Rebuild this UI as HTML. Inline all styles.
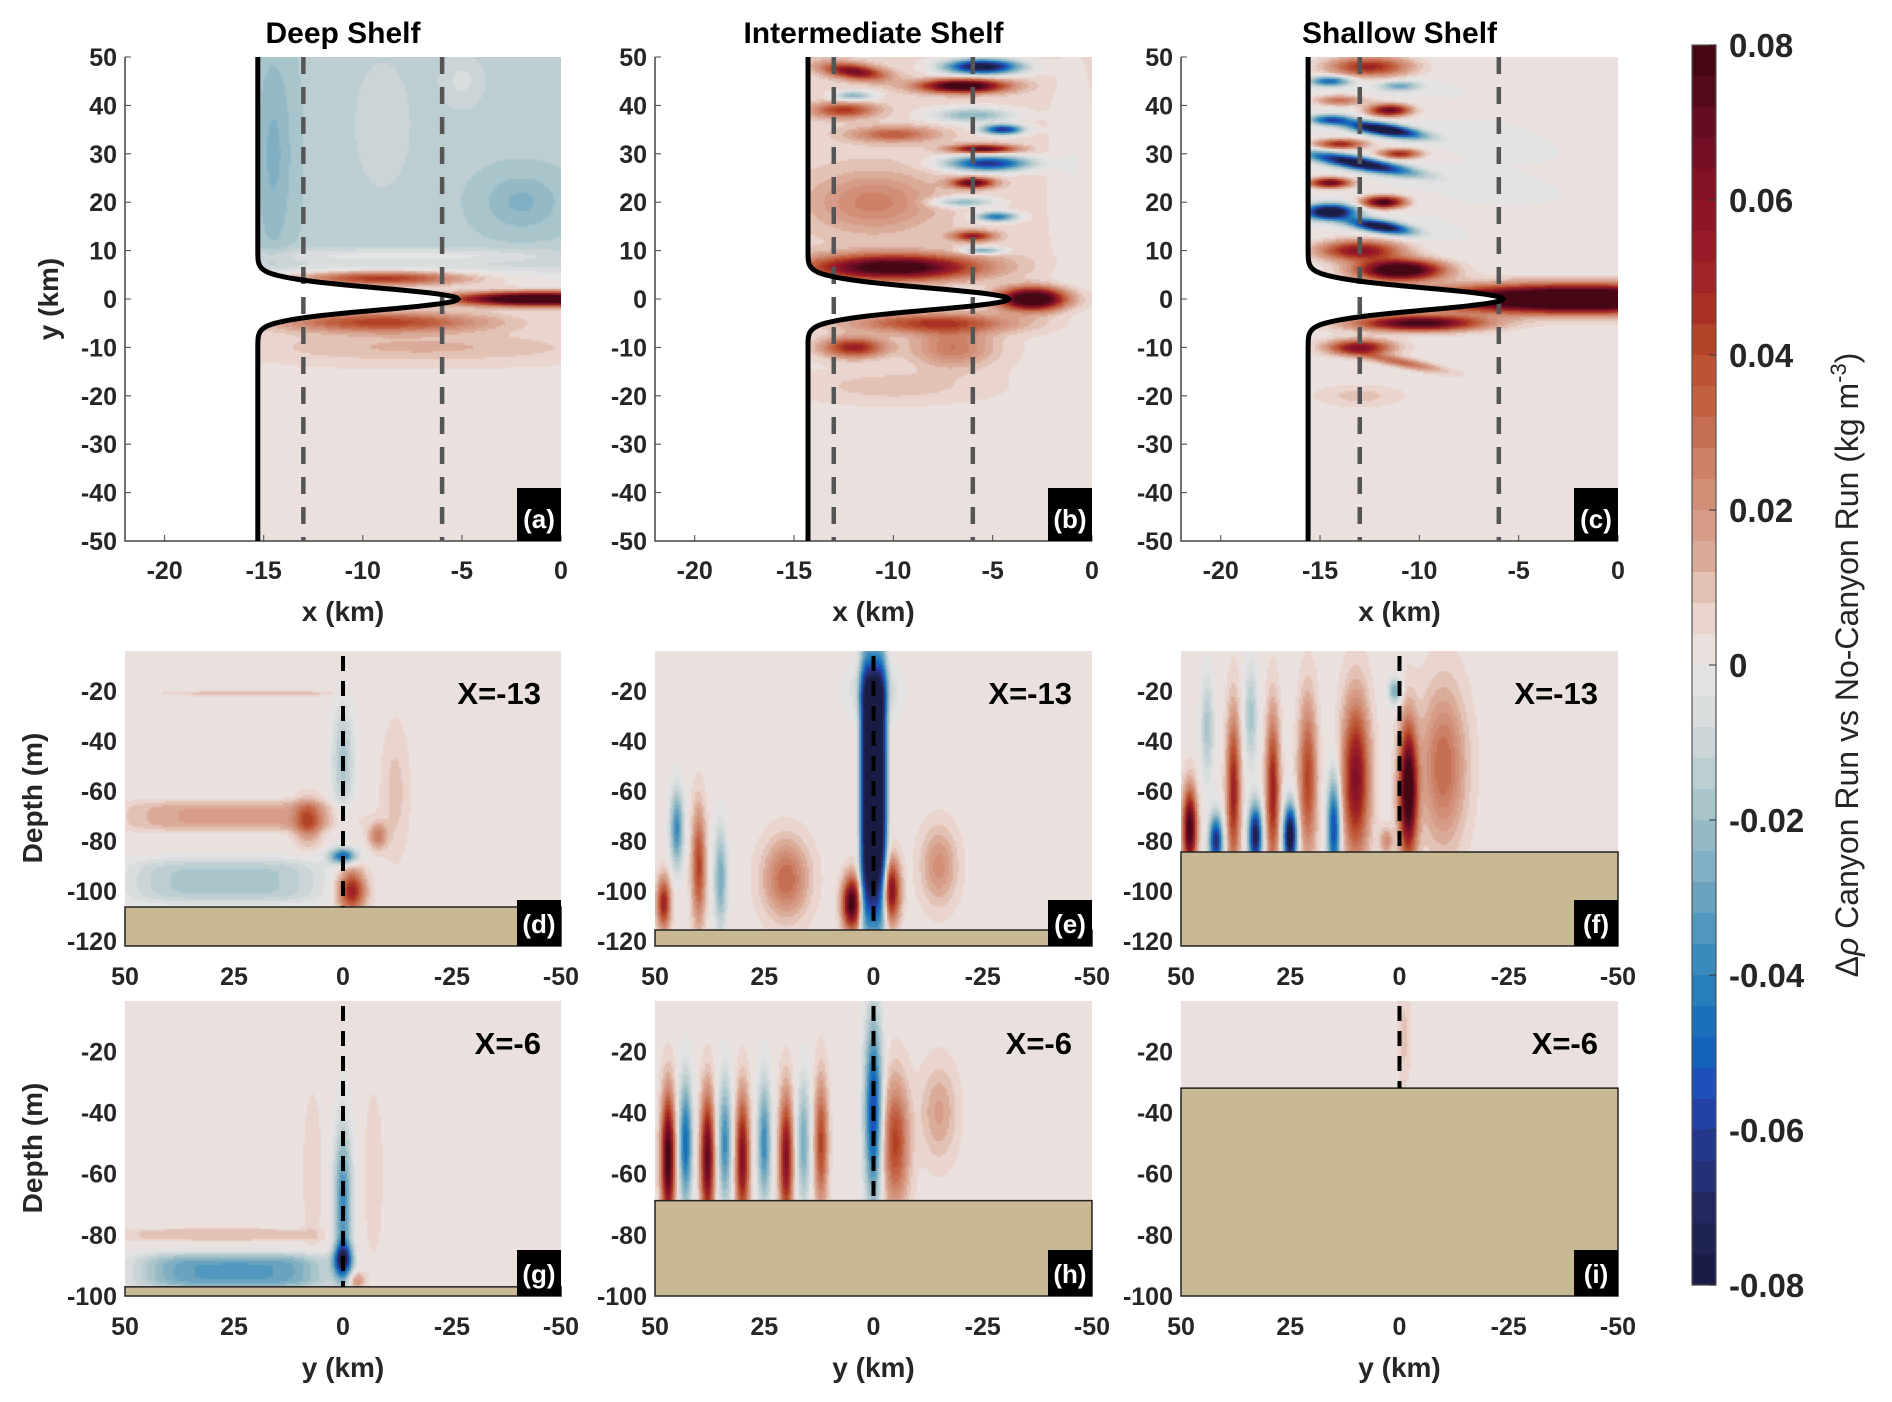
<!DOCTYPE html>
<html><head><meta charset="utf-8">
<style>
html,body{margin:0;padding:0;background:#fff;}
#wrap{position:relative;width:1892px;height:1402px;overflow:hidden;font-family:"Liberation Sans",sans-serif;}
canvas{position:absolute;}
svg{position:absolute;left:0;top:0;}
</style></head>
<body>
<div id="wrap"></div>
<script>
// ---------- DATA ----------
const panelLetters = ['a','b','c','d','e','f','g','h','i'];
const colTitles = ['Deep Shelf','Intermediate Shelf','Shallow Shelf'];
const xTicksTop = [-20,-15,-10,-5,0];
const yTicksTop = [50,40,30,20,10,0,-10,-20,-30,-40,-50];
const yTicksSec = [50,25,0,-25,-50];
const depthTicksMid = [-20,-40,-60,-80,-100,-120];
const depthTicksBot = [-20,-40,-60,-80,-100];
const cbTicks = [0.08,0.06,0.04,0.02,0,-0.02,-0.04,-0.06,-0.08];
const cbLabels = ['0.08','0.06','0.04','0.02','0','-0.02','-0.04','-0.06','-0.08'];
const dashXs = [-13,-6];
const sectionLabels = ['X=-13','X=-13','X=-13','X=-6','X=-6','X=-6'];
const coastBase = [-15.3,-14.3,-15.6];
const coastTip = [-5.2,-4.2,-5.8];
const bathy = [-106.4,-115.6,-84.4,-97,-68.8,-32];
const bgNorth = [-0.015,0.006,0.0];
const bgSouth = [0.003,0.003,0.002];
const bgSection = [0.002,0.002,0.002,0.002,0.002,0.002];
// blobs: [x, y, sx, sy, amp, shear, power]
const blobsA = [
 [-14.5,30,1.0,22,-0.01,0,2],[-2,20,2,6,-0.01,0,2],[-9,36,1.5,14,0.007,0,2],[-5,45,1.2,6,0.008,0,2],
 [-1,0,4,1.3,0.11,0,2],[-9,4.3,4,1.4,0.045,0,2],[-9,-4.8,5,2,0.04,0,2],[-7,-10,8,3,0.01,0,2],[-8,9,8,1.5,0.012,0,2]];
const blobsB = [
 [-5.5,48,1.8,1.5,-0.09,0,2],[-6.5,44,2,1.3,0.09,0,2],[-12,47,1.5,1.5,0.06,-0.5,2],[-12,42,1,1,-0.03,0,2],
 [-12.5,39,1.5,1.5,0.04,0,2],[-6,38,2,1.5,-0.03,0,2],[-4.5,35,1,1,-0.07,0,2],[-5.5,31,1.5,0.8,0.07,0,2],
 [-5.2,28,2,1.5,-0.07,0,2],[-10,34,2,1.5,0.03,0,2],[-6,24,1,1,0.07,0,2],[-6.5,20,1.5,1,-0.03,0,2],
 [-4.8,17,1,1,-0.05,0,2],[-11,20,3,6,0.02,0,2],[-6,13,1,1,0.05,0,2],[-5.5,10,1,0.7,-0.035,0,2],
 [-10,6.5,4,2.5,0.085,0,2],[-3,0,1.6,2.2,0.1,0,2],[-8,-5,4,2,0.04,0,2],[-12,-10,1.5,2,0.05,0,2],
 [-7,-10,2,4,0.025,0,2],[-10,-18,4,3,0.008,0,2],[-1,25,1.2,25,-0.006,0,2]];
const blobsC = [
 [-12.5,48,2,2,0.05,0,2],[-14.5,45,1,1,-0.05,0,2],[-11,44,1,1,-0.03,0,2],[-14,41,1.2,1,0.03,0,2],
 [-11.5,39,1,1.2,0.07,0,2],[-14.5,37,1,1,-0.05,0,2],[-11.8,35,1.8,1.2,-0.1,-0.6,2],[-14,32,1.2,1,0.05,0,2],
 [-11,30,1,1,0.05,0,2],[-13,28,2.5,1.3,-0.09,-0.7,2],[-14.5,24,1,1,0.07,0,2],[-11.8,20,1,1.2,0.08,0,2],
 [-14.5,18,1.2,1.5,-0.1,0,2],[-12,15,1.5,1.2,-0.09,-0.6,2],[-13,10,2,2,0.06,0,2],[-2,0,7,2.6,0.13,0,2],
 [-11,6,2,2,0.1,0,2],[-10,-5,3,1.5,0.08,0,2],[-13,-10,1.5,1.5,0.06,0,2],[-11,-13,2,1,0.03,-0.8,2],[-13,-20,2,2,0.008,0,2]];
const blobsD = [
 [25,-70,25,6,0.015,0,4],[8,-72,3,8,0.03,0,2],[27,-96,22,9,-0.02,0,4],[0,-48,2.5,22,-0.02,0,2],
 [0,-86,3,3,-0.05,0,2],[-2,-100,3,8,0.05,0,2],[-8,-78,2,5,0.025,0,2],[-12,-60,3,25,0.008,0,2],[20,-21,20,1,0.008,0,4]];
const blobsE = [
 [0,-60,3,55,-0.1,0,4],[0,-20,5,10,-0.02,0,2],[5,-105,2,10,0.08,0,2],[-4,-100,2,12,0.06,0,2],
 [40,-90,1.5,22,0.04,0,2],[45,-75,1.5,15,-0.04,0,2],[35,-95,1.5,20,-0.03,0,2],[20,-95,5,15,0.03,0,2],
 [-15,-90,4,15,0.02,0,2],[48,-105,1.5,10,0.05,0,2]];
const blobsF = [
 [48,-75,1.5,15,0.08,0,2],[42,-80,1.5,10,-0.07,0,2],[38,-60,1.5,30,0.05,0,2],[33,-78,1.5,12,-0.08,0,2],
 [29,-60,1.5,30,0.05,0,2],[25,-78,1.5,12,-0.09,0,2],[21,-55,2,30,0.04,0,2],[15,-75,1.5,20,-0.06,0,2],
 [10,-55,3,30,0.06,0,2],[3,-80,1.5,5,0.02,0,2],[-2,-60,2,25,0.09,0,2],[-10,-50,5,30,0.03,0,2],
 [1,-20,1.5,5,-0.03,0,2],[44,-35,1.5,20,-0.02,0,2],[34,-30,1.5,20,-0.02,0,2]];
const blobsG = [
 [0,-70,2,25,-0.04,0,2],[0,-88,2,5,-0.06,0,2],[25,-92,22,6,-0.035,0,4],[28,-80,22,2,0.01,0,4],
 [7,-60,2,25,0.006,0,2],[-7,-60,2,25,0.006,0,2],[-3,-95,2,3,0.02,0,2]];
const blobsH = [
 [47,-55,1.5,20,0.08,0,2],[43,-50,1.5,20,-0.05,0,2],[38,-55,1.5,20,0.07,0,2],[34,-50,1.5,20,-0.04,0,2],
 [30,-55,1.5,20,0.06,0,2],[25,-50,1.5,20,-0.04,0,2],[20,-55,1.5,20,0.06,0,2],[16,-50,1.5,20,-0.03,0,2],
 [12,-50,1.5,20,0.04,0,2],[0,-40,2,30,-0.06,0,2],[-5,-50,3,20,0.04,0,2],[-15,-40,4,15,0.015,0,2]];
const blobsI = [[-1,-15,1.5,15,0.008,0,2]];
const allBlobs = [blobsA,blobsB,blobsC,blobsD,blobsE,blobsF,blobsG,blobsH,blobsI];
const cmapVals = [-0.08,-0.07,-0.06,-0.055,-0.05,-0.045,-0.04,-0.035,-0.03,-0.025,-0.02,-0.015,-0.01,-0.005,0,0.005,0.01,0.015,0.02,0.025,0.03,0.04,0.045,0.05,0.06,0.07,0.08];
const cmapCols = ['#171a40','#22295e','#263a98','#1f4bb8','#1463bd','#1c74b8','#2d84bd','#4c94bc','#6aa3bf','#86b2c4','#9fc0c8','#b8ccd1','#cbd5d8','#dcdfe0','#e8e6e6','#ecdad4','#e3c2b6','#d9a592','#d49680','#cd846b','#c66e51','#b94d2c','#ab3522','#9f2327','#8a1227','#640c22','#3e0610'];

// ---------- LAYOUT ----------
const cols=[{l:125,r:561},{l:655,r:1092},{l:1181,r:1618}];
const rows=[{t:57,b:541},{t:651,b:946},{t:1001,b:1296}];
const depthLim=[[-122,-4],[-100,-3.5]];
const cb={l:1692,r:1716,t:45,b:1285};

function hex(h){return [parseInt(h.slice(1,3),16),parseInt(h.slice(3,5),16),parseInt(h.slice(5,7),16)];}
const cmapRGB=cmapCols.map(hex);
function cmap(v){
  if(v<=cmapVals[0])return cmapRGB[0];
  for(let i=1;i<cmapVals.length;i++){if(v<=cmapVals[i]){const f=(v-cmapVals[i-1])/(cmapVals[i]-cmapVals[i-1]);const a=cmapRGB[i-1],b=cmapRGB[i];return [a[0]+(b[0]-a[0])*f,a[1]+(b[1]-a[1])*f,a[2]+(b[2]-a[2])*f];}}
  return cmapRGB[cmapRGB.length-1];
}
function level(v){let k=Math.floor((v+0.08)/0.004);k=Math.max(0,Math.min(39,k));return -0.08+(k+0.5)*0.004;}
function evalBlobs(bl,x,y,base){let v=base;for(const b of bl){const yc=b[1]+b[5]*(x-b[0]);const dx=Math.abs((x-b[0])/b[2]),dy=Math.abs((y-yc)/b[3]);v+=b[4]*Math.exp(-(Math.pow(dx,b[6])+Math.pow(dy,b[6])));}return v;}
function coastX(p,y){return coastBase[p]+(coastTip[p]-coastBase[p])*Math.exp(-Math.pow(y/3.2,2));}

const wrap=document.getElementById('wrap');
const NS='http://www.w3.org/2000/svg';
const svg=document.createElementNS(NS,'svg');
svg.setAttribute('width','1892');svg.setAttribute('height','1402');


function el(tag,attrs,parent){const e=document.createElementNS(NS,tag);for(const k in attrs)e.setAttribute(k,attrs[k]);(parent||svg).appendChild(e);return e;}
function txt(s,x,y,attrs){const t=el('text',Object.assign({x:x,y:y,'font-family':'Liberation Sans, sans-serif','font-weight':'bold','font-size':25,fill:'#262626'},attrs||{}));t.textContent=s;return t;}

const step=2;
for(let p=0;p<9;p++){
  const c=cols[p%3], r=rows[Math.floor(p/3)];
  const w=c.r-c.l,h=r.b-r.t;
  const cv=document.createElement('canvas');
  cv.width=w;cv.height=h;cv.style.left=c.l+'px';cv.style.top=r.t+'px';
  
  
  wrap.appendChild(cv);
  const ctx=cv.getContext('2d');
  const img=ctx.createImageData(w,h);
  const bl=allBlobs[p];
  for(let j=0;j<h;j+=step){for(let i=0;i<w;i+=step){
    let col;
    if(p<3){
      const x=-22+22*(i+step/2)/w, y=50-100*(j+step/2)/h;
      if(x<coastX(p,y)) col=[255,255,255];
      else{const t=1/(1+Math.exp(-(y-6)/1.2));const base=bgNorth[p]*t+bgSouth[p]*(1-t);col=cmap(level(evalBlobs(bl,x,y,base)));}
    } else {
      const dl=depthLim[p<6?0:1];
      const x=50-100*(i+step/2)/w, d=dl[1]-(dl[1]-dl[0])*(j+step/2)/h;
      col=cmap(level(evalBlobs(bl,x,d,bgSection[p-3])));
    }
    for(let jj=j;jj<Math.min(j+step,h);jj++)for(let ii=i;ii<Math.min(i+step,w);ii++){const o=(jj*w+ii)*4;img.data[o]=col[0];img.data[o+1]=col[1];img.data[o+2]=col[2];img.data[o+3]=255;}
  }}
  ctx.putImageData(img,0,0);
}
wrap.appendChild(svg);

// ---- top panels overlay ----
for(let p=0;p<3;p++){
  const c=cols[p],r=rows[0];
  const sx=x=>c.l+(x+22)/22*(c.r-c.l), sy=y=>r.t+(50-y)/100*(r.b-r.t);
  const g=el('g',{});
  
  
  el('path',{d:`M${c.l},${r.t} L${c.l},${r.b} L${c.r},${r.b}`,stroke:'#444',fill:'none','stroke-width':1.5},g);
  for(const t of yTicksTop){el('line',{x1:c.l,x2:c.l+6,y1:sy(t),y2:sy(t),stroke:'#444'},g);txt(String(t),c.l-8,sy(t)+9,{'text-anchor':'end'});}
  for(const t of xTicksTop){el('line',{x1:sx(t),x2:sx(t),y1:r.b,y2:r.b-6,stroke:'#444'},g);txt(String(t),sx(t),r.b+38,{'text-anchor':'middle'});}
  for(const dx of dashXs){const l=el('line',{x1:sx(dx),x2:sx(dx),y1:r.t,y2:r.b,stroke:'#555','stroke-width':4.5,'stroke-dasharray':'17,13'},g);}
  let d='';for(let y=50;y>=-50;y-=0.25){d+=(y===50?'M':'L')+sx(coastX(p,y)).toFixed(1)+','+sy(y).toFixed(1)+' ';}
  const cl=el('path',{d:d,stroke:'#000','stroke-width':5,fill:'none'},g);
  
  const tt=txt(colTitles[p],(c.l+c.r)/2,43,{'text-anchor':'middle','font-size':30,fill:'#000'});
  
  const xl=txt('x (km)',(c.l+c.r)/2,621,{'text-anchor':'middle','font-size':28});
  
}
const yl=txt('y (km)',0,0,{'text-anchor':'middle','font-size':28,transform:'translate(58,299) rotate(-90)'});


// ---- section panels overlay ----
for(let p=3;p<9;p++){
  const c=cols[p%3],ri=Math.floor(p/3),r=rows[ri];
  const dl=depthLim[ri-1];
  const sx=x=>c.l+(50-x)/100*(c.r-c.l), sy=d=>r.t+(dl[1]-d)/(dl[1]-dl[0])*(r.b-r.t);
  const g=el('g',{});
  
  
  const bt=sy(bathy[p-3]);
  const br=el('rect',{x:c.l,y:bt,width:c.r-c.l,height:r.b-bt,fill:'#c8b894',stroke:'#222','stroke-width':1.5},g);
  
  const cl=el('line',{x1:sx(0),x2:sx(0),y1:r.t+5,y2:bt,stroke:'#000','stroke-width':4,'stroke-dasharray':'15,10'},g);
  
  const dt=ri===1?depthTicksMid:depthTicksBot;
  for(const t of dt){txt(String(t),c.l-8,sy(t)+9,{'text-anchor':'end'});}
  for(const t of yTicksSec){txt(String(t),sx(t),r.b+39,{'text-anchor':'middle'});}
  const sl=txt(sectionLabels[p-3],c.r-20,r.t+53,{'text-anchor':'end','font-size':31,fill:'#000'});
  
}
for(let p=0;p<3;p++){const xl=txt('y (km)',(cols[p].l+cols[p].r)/2,1377,{'text-anchor':'middle','font-size':28});}
for(const cy of [798,1148]){const t=txt('Depth (m)',0,0,{'text-anchor':'middle','font-size':28,transform:`translate(42,${cy}) rotate(-90)`});}

for(let p=0;p<9;p++){
  const c=cols[p%3],r=rows[Math.floor(p/3)];
  const g=el('g',{});
  
  
  el('rect',{x:c.r-44,y:r.b-(p<3?53:46),width:44,height:(p<3?53:46),fill:'#000'},g);
  txt('('+panelLetters[p]+')',c.r-22,r.b-13,{'text-anchor':'middle','font-size':26,fill:'#fff'});
}

// ---- colorbar ----
const cbg=el('g',{});


const cbh=(cb.b-cb.t)/40;
for(let k=0;k<40;k++){const v=0.08-(k+0.5)*0.004;const col=cmap(v);el('rect',{x:cb.l,y:cb.t+k*cbh,width:cb.r-cb.l,height:cbh+0.6,fill:`rgb(${col.map(Math.round).join(',')})`},cbg);}
el('rect',{x:cb.l,y:cb.t,width:cb.r-cb.l,height:cb.b-cb.t,fill:'none',stroke:'#555','stroke-width':1.2},cbg);
for(let k=0;k<cbTicks.length;k++){const y=cb.t+(0.08-cbTicks[k])/0.16*(cb.b-cb.t);el('line',{x1:cb.r-7,x2:cb.r,y1:y,y2:y,stroke:'#333'},cbg);const t=txt(cbLabels[k],cb.r+13,y+12,{'font-size':33});}
const ct=el('text',{x:0,y:0,'font-family':'Liberation Sans, sans-serif','font-size':32,fill:'#262626','text-anchor':'middle',transform:'translate(1858,665) rotate(-90)'});
ct.innerHTML='Δ<tspan font-style="italic">ρ</tspan> Canyon Run vs No-Canyon Run (kg m<tspan dy="-12" font-size="22">-3</tspan><tspan dy="12">)</tspan>';

</script>
</body></html>
